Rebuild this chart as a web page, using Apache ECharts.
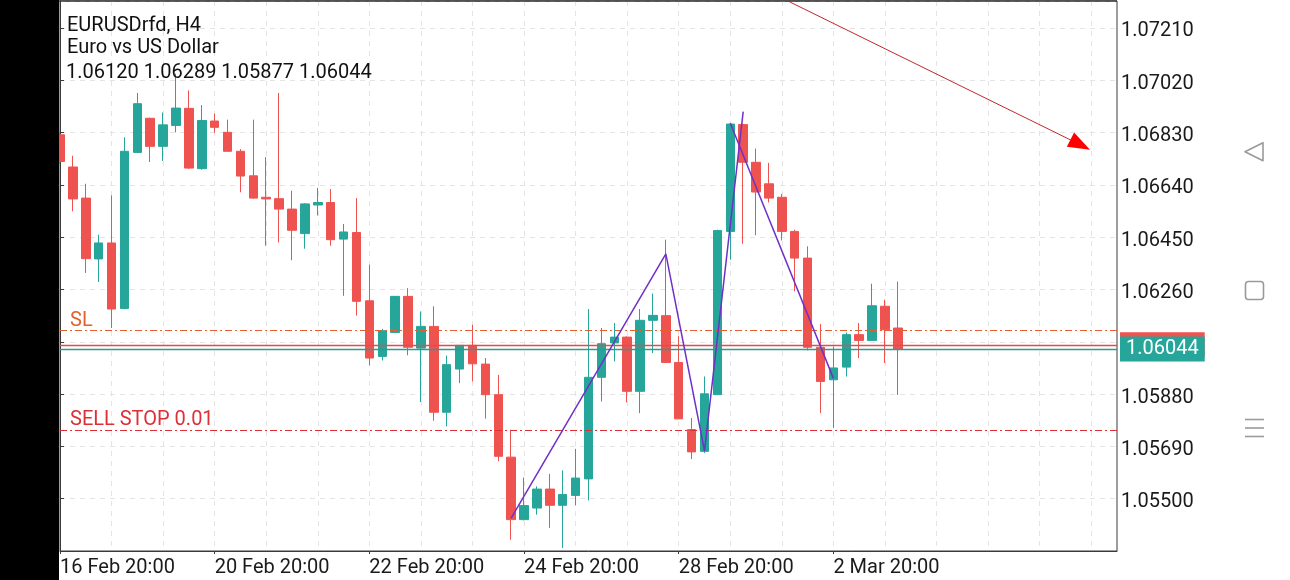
<!DOCTYPE html>
<html>
<head>
<meta charset="utf-8">
<script src="https://cdn.jsdelivr.net/npm/echarts@6/dist/echarts.min.js"></script>
<style>
html,body{margin:0;padding:0;background:#fff;}
#c{width:1290px;height:580px;}
</style>
</head>
<body>
<div id="c"></div>
<script>
// ---------------- data ----------------
const symbolTitle = 'EURUSDrfd, H4';
const symbolDescription = 'Euro vs US Dollar';
const firstCandleTimeUTC = [2023, 1, 16, 20]; // 16 Feb 20:00, H4 bars, weekends skipped
const slotCount = 83;          // candle slots visible across the plot
const labelEvery = 12;         // date label every 12 bars
const gridEvery = 4;           // vertical grid every 4 bars

const opens  = [1.06822,1.06705,1.06592,1.06371,1.06429,1.06191,1.06758,1.06882,1.06780,1.06856,
                1.06918,1.06699,1.06872,1.06831,1.06762,1.06673,1.06595,1.06590,1.06552,1.06463,
                1.06567,1.06576,1.06443,1.06467,1.06219,1.06017,1.06104,1.06235,1.06047,1.06126,
                1.05814,1.05971,1.06057,1.05989,1.05878,1.05651,1.05424,1.05466,1.05535,1.05476,
                1.05512,1.05572,1.05941,1.06066,1.06087,1.05890,1.06148,1.06165,1.05995,1.05751,
                1.05672,1.05878,1.06471,1.06859,1.06722,1.06644,1.06595,1.06471,1.06374,1.06050,
                1.05932,1.05978,1.06096,1.06075,1.06199,1.06120];
const closes = [1.06725,1.06589,1.06372,1.06429,1.06189,1.06762,1.06935,1.06780,1.06858,1.06919,
                1.06701,1.06874,1.06849,1.06762,1.06672,1.06592,1.06589,1.06552,1.06475,1.06571,
                1.06576,1.06441,1.06469,1.06217,1.06011,1.06110,1.06235,1.06050,1.06126,1.05814,
                1.05987,1.06057,1.05990,1.05878,1.05654,1.05424,1.05475,1.05535,1.05476,1.05515,
                1.05575,1.05941,1.06063,1.06087,1.05890,1.06148,1.06166,1.05995,1.05790,1.05670,
                1.05881,1.06474,1.06861,1.06722,1.06614,1.06592,1.06471,1.06374,1.06050,1.05926,
                1.05975,1.06096,1.06075,1.06201,1.06114,1.06044];
const lows   = [1.06717,1.06544,1.06320,1.06287,1.06120,1.06188,1.06757,1.06723,1.06727,1.06831,
                1.06698,1.06695,1.06829,1.06761,1.06613,1.06589,1.06419,1.06431,1.06366,1.06408,
                1.06529,1.06419,1.06237,1.06165,1.05984,1.06002,1.06102,1.06021,1.05851,1.05783,
                1.05763,1.05920,1.05926,1.05791,1.05636,1.05351,1.05421,1.05442,1.05394,1.05321,
                1.05476,1.05494,1.05853,1.05999,1.05850,1.05811,1.06029,1.05994,1.05789,1.05644,
                1.05666,1.05877,1.06368,1.06426,1.06457,1.06576,1.06438,1.06253,1.06039,1.05811,
                1.05757,1.05944,1.06011,1.06075,1.05993,1.05877];
const highs  = [1.06833,1.06746,1.06644,1.06459,1.06602,1.06813,1.06974,1.06884,1.06903,1.07044,
                1.06983,1.06930,1.06899,1.06877,1.06770,1.06877,1.06741,1.06974,1.06619,1.06574,
                1.06629,1.06625,1.06498,1.06592,1.06350,1.06117,1.06236,1.06265,1.06180,1.06199,
                1.06020,1.06058,1.06132,1.06011,1.05950,1.05751,1.05577,1.05545,1.05590,1.05603,
                1.05681,1.06189,1.06120,1.06138,1.06090,1.06189,1.06245,1.06441,1.06090,1.05793,
                1.05944,1.06477,1.06865,1.06862,1.06772,1.06720,1.06607,1.06477,1.06417,1.06135,
                1.06053,1.06104,1.06138,1.06281,1.06223,1.06289];

// price axis
const yMin = 1.0531, yMax = 1.07308, yStep = 0.0019;
const hiddenPriceLabels = ['1.06070'];

// order / price levels
const slPrice = 1.06111;
const sellStopPrice = 1.05748;
const sellStopText = 'SELL STOP 0.01';
const bidPrice = 1.06044;
const askPrice = 1.06059;

// drawn objects (bar index, price)
const trendUp = [[35, 1.05429], [47, 1.06389], [50, 1.05674], [53, 1.06906]];
const trendDown = [[52, 1.06864], [60, 1.05937]];
const arrowStart = [56.6, 1.07305];
const arrowHeadBase = [78.65, 1.06798];
const arrowEnd = [79.15, 1.06786];

// ---------------- build ----------------
const UP = '#26a69a', DOWN = '#ef5350';
const FONT = 'Roboto, "Noto Sans", sans-serif';
const SL_COLOR = '#e4602e', SS_COLOR = '#dc2f36', PURPLE = '#7030c8';

const months = ['Jan','Feb','Mar','Apr','May','Jun','Jul','Aug','Sep','Oct','Nov','Dec'];
const categories = [];
let t = Date.UTC(...firstCandleTimeUTC);
while (categories.length < slotCount) {
  const d = new Date(t);
  categories.push(d.getUTCDate() + ' ' + months[d.getUTCMonth()] + ' ' +
                  String(d.getUTCHours()).padStart(2, '0') + ':00');
  do { t += 4 * 3600e3; } while ([0, 6].includes(new Date(t).getUTCDay()));
}
const candles = opens.map((o, i) => [o, closes[i], lows[i], highs[i]]);
const last = opens.length - 1;
const ohlcLine = [opens[last], highs[last], lows[last], closes[last]].map(v => v.toFixed(5)).join(' ');

const labelInterval = (i) => i % labelEvery === 0 && i < opens.length;
const gridInterval = (i) => i % gridEvery === 0;
const gridLine = {color: '#e4e4e4', type: [5, 5], width: 1};

const chart = echarts.init(document.getElementById('c'), null, {renderer: 'canvas', width: 1290, height: 580});

const levelLabel = (text, color) => ({
  show: true, position: 'insideStartTop', formatter: text, color: color,
  fontSize: 20, fontFamily: FONT, distance: [10, 0]
});
const priceLabel = (text, bg, fg) => ({
  show: true, position: 'end', formatter: text, color: fg, backgroundColor: bg,
  padding: [5, 6, 0, 6], fontSize: 20, fontFamily: FONT, distance: 3
});

chart.setOption({
  animation: false,
  backgroundColor: '#ffffff',
  textStyle: {fontFamily: FONT},
  grid: {left: 60, right: 173, top: 1, bottom: 29, show: true, borderColor: '#3a3a3a', borderWidth: 1, backgroundColor: '#fff'},
  xAxis: [{
    type: 'category', data: categories, boundaryGap: false,
    axisLine: {show: true, lineStyle: {color: '#3a3a3a', width: 1}},
    axisTick: {show: true, length: 3, interval: labelInterval, lineStyle: {color: '#3a3a3a'}},
    axisLabel: {interval: labelInterval, align: 'left', margin: 7, fontSize: 20, color: '#1a1a1a', fontFamily: FONT},
    splitLine: {show: true, interval: gridInterval, lineStyle: gridLine}
  }, {
    type: 'value', min: 0, max: slotCount - 1, show: false
  }],
  yAxis: {
    type: 'value', position: 'right', min: yMin, max: yMax, interval: yStep,
    axisLine: {show: true, lineStyle: {color: '#3a3a3a', width: 1}},
    axisTick: {show: true, length: 4, lineStyle: {color: '#3a3a3a'}},
    axisLabel: {
      margin: 4, fontSize: 20, color: '#1a1a1a', fontFamily: FONT,
      showMinLabel: false, showMaxLabel: false,
      formatter: v => hiddenPriceLabels.includes(v.toFixed(5)) ? '' : '{p|' + v.toFixed(5) + '}',
      rich: {p: {fontSize: 20, color: '#1a1a1a', fontFamily: FONT, padding: [7, 0, 0, 0]}}
    },
    splitLine: {show: true, lineStyle: gridLine}
  },
  series: [{
    type: 'candlestick', name: 'EURUSDrfd', data: candles, barWidth: 9, clip: true, z: 3,
    itemStyle: {color: UP, color0: DOWN, borderColor: UP, borderColor0: DOWN, borderWidth: 1}
  }, {
    type: 'line', xAxisIndex: 1, data: trendUp, symbol: 'none', silent: true, z: 5,
    lineStyle: {color: PURPLE, width: 1.5},
    markLine: {
      silent: true, symbol: ['none', 'none'], animation: false, label: {show: false}, precision: 6,
      data: [
        [{coord: arrowStart}, {coord: arrowEnd, lineStyle: {color: '#c0282d', width: 1, type: 'solid'}}],
        [{coord: arrowHeadBase},
         {coord: arrowEnd, symbol: 'triangle', symbolSize: [16, 22], lineStyle: {color: '#ff0000', width: 1, type: 'solid'}}]
      ]
    }
  }, {
    type: 'line', xAxisIndex: 1, data: trendDown, symbol: 'none', silent: true, z: 5,
    lineStyle: {color: PURPLE, width: 1.5},
    markLine: {
      silent: true, symbol: ['none', 'none'], animation: false, precision: 6,
      data: [
        {yAxis: slPrice, lineStyle: {color: SL_COLOR, type: [7, 3, 2, 3], width: 1.2}, label: levelLabel('SL', SL_COLOR)},
        {yAxis: sellStopPrice, lineStyle: {color: SS_COLOR, type: [7, 3, 2, 3], width: 1.2}, label: levelLabel(sellStopText, SS_COLOR)},
        {yAxis: askPrice, lineStyle: {color: '#e84a4a', type: 'solid', width: 1.3, opacity: 1},
         label: priceLabel(askPrice.toFixed(5), DOWN, DOWN)},
        {yAxis: bidPrice, lineStyle: {color: '#2a9d92', type: 'solid', width: 1.3, opacity: 1},
         label: priceLabel(bidPrice.toFixed(5), UP, '#fff')}
      ]
    }
  }],
  graphic: [
    {type: 'rect', shape: {x: 0, y: 0, width: 59, height: 580}, style: {fill: '#000'}, z: 50},
    {type: 'line', shape: {x1: 59, y1: 1, x2: 1117, y2: 1}, style: {stroke: '#3a3a3a', lineWidth: 1.5}, z: 60},
    {type: 'text', x: 67, y: 25.7, z: 100, style: {text: symbolTitle, font: '20px ' + FONT, fill: '#111', verticalAlign: 'middle'}},
    {type: 'text', x: 67, y: 47.7, z: 100, style: {text: symbolDescription, font: '20px ' + FONT, fill: '#111', verticalAlign: 'middle'}},
    {type: 'text', x: 66, y: 73.3, z: 100, style: {text: ohlcLine, font: '20px ' + FONT, fill: '#111', verticalAlign: 'middle'}},
    {type: 'polygon', shape: {points: [[1245, 151.7], [1263, 142.7], [1263, 160.7]]},
     style: {fill: 'none', stroke: '#9a9a9a', lineWidth: 1.6, lineJoin: 'round'}, z: 100},
    {type: 'rect', shape: {x: 1245.5, y: 281.5, width: 18, height: 18, r: 3},
     style: {fill: 'none', stroke: '#9a9a9a', lineWidth: 1.6}, z: 100},
    {type: 'line', shape: {x1: 1245, y1: 419.5, x2: 1264, y2: 419.5}, style: {stroke: '#9a9a9a', lineWidth: 1.6}, z: 100},
    {type: 'line', shape: {x1: 1245, y1: 428, x2: 1264, y2: 428}, style: {stroke: '#9a9a9a', lineWidth: 1.6}, z: 100},
    {type: 'line', shape: {x1: 1245, y1: 436.5, x2: 1264, y2: 436.5}, style: {stroke: '#9a9a9a', lineWidth: 1.6}, z: 100}
  ]
});
</script>
</body>
</html>
